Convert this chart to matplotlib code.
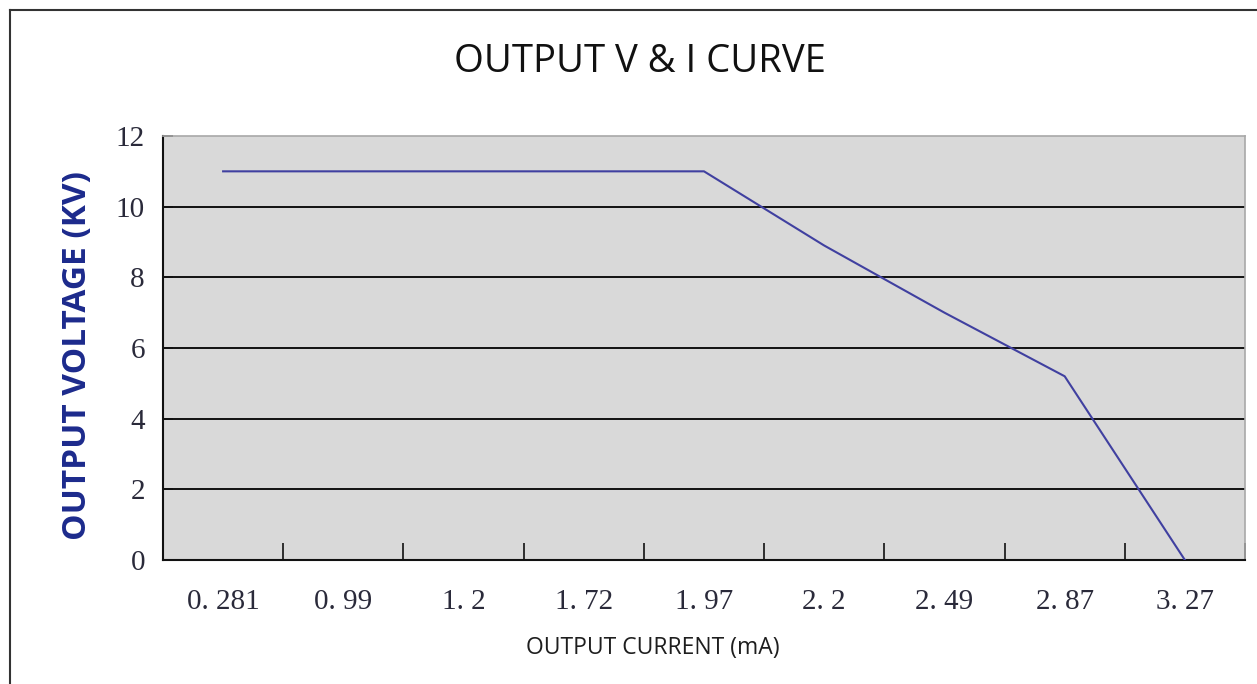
import numpy as np
import matplotlib.pyplot as plt
from matplotlib.lines import Line2D

# data
current_labels = ["0. 281", "0. 99", "1. 2", "1. 72", "1. 97", "2. 2", "2. 49", "2. 87", "3. 27"]
voltage_kv = [11, 11, 11, 11, 11, 8.9, 7.0, 5.2, 0]
y_ticks = [0, 2, 4, 6, 8, 10, 12]

W, H = 1257, 684
fig = plt.figure(figsize=(W / 100, H / 100), dpi=100)
ax = fig.add_axes([163 / W, 1 - 560 / H, (1245 - 163) / W, (560 - 136) / H])
ax.set_facecolor("#d9d9d9")

x = np.arange(len(current_labels))
ax.plot(x, voltage_kv, color="#4040a0", lw=1.5, zorder=3)

ax.set_xlim(-0.5, len(current_labels) - 0.5)
ax.set_ylim(0, 12)

# horizontal grid lines
for yv in y_ticks[1:-1]:
    ax.axhline(yv, color="#111111", lw=1.4, zorder=2)

ax.set_yticks(y_ticks)
ax.set_yticklabels([str(v) for v in y_ticks], family="Liberation Serif", fontsize=21, color="#2a2a3a")
ax.tick_params(axis="y", direction="in", length=7, width=1.2, pad=13, color="#111111")

# x ticks between the categories, labels at the centres
ax.set_xticks(np.arange(len(current_labels) + 1) - 0.5)
ax.set_xticklabels([])
ax.set_xticks(x, minor=True)
ax.set_xticklabels(current_labels, minor=True, family="Liberation Serif", fontsize=21, color="#2a2a3a")
ax.tick_params(axis="x", which="major", direction="in", length=12, width=1.2, color="#111111")
ax.tick_params(axis="x", which="minor", length=0, pad=21)

for s in ["left", "bottom"]:
    ax.spines[s].set_color("#111111")
    ax.spines[s].set_linewidth(1.5)
for s in ["top", "right"]:
    ax.spines[s].set_color("#a8a8a8")
    ax.spines[s].set_linewidth(1.2)

fig.text(78 / W, 1 - 355 / H, "OUTPUT VOLTAGE (KV)", family="Open Sans", fontweight="bold", fontsize=24,
         color="#1c2a8c", rotation=90, ha="center", va="center")
fig.text(653 / W, 1 - 648 / H, "OUTPUT CURRENT (mA)", family="Open Sans", fontsize=16.5,
         color="#1e1e1e", ha="center", va="center")
fig.text(640 / W, 1 - 62 / H, "OUTPUT V & I CURVE", family="Open Sans", fontsize=27.5, color="#111111",
         ha="center", va="center")

# outer chart frame (partly cut off by the image edge)
fig.add_artist(Line2D([10 / W, 1.0], [1 - 10 / H, 1 - 10 / H], color="#333333", lw=1.5))
fig.add_artist(Line2D([10 / W, 10 / W], [0.0, 1 - 10 / H], color="#333333", lw=1.5))

fig.savefig("out.png", dpi=100)
